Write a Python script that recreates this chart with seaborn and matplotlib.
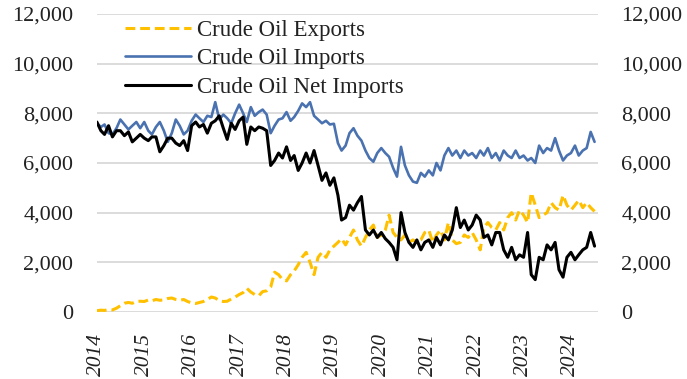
import matplotlib
matplotlib.use("Agg")
import matplotlib.pyplot as plt
import matplotlib.dates as mdates
from matplotlib.ticker import FuncFormatter, MultipleLocator
import numpy as np
import pandas as pd
import seaborn as sns

# Monthly averages, thousand barrels per day, Jan 2014 - Jul 2024
crude_exports = [
    50, 70, 60, 90, 80, 150, 250, 350, 380, 350, 420, 430,            # 2014
    420, 480, 450, 500, 470, 480, 540, 560, 500, 470, 500, 420,       # 2015
    360, 340, 380, 420, 500, 600, 560, 450, 420, 430, 520, 600,       # 2016
    700, 780, 950, 800, 700, 650, 820, 850, 1000, 1600, 1500, 1300,   # 2017
    1250, 1500, 1650, 1900, 2200, 2400, 2000, 1500, 2200, 2400, 2200, 2500,  # 2018
    2650, 2800, 2950, 2700, 3000, 3300, 2900, 2650, 3000, 3300, 3500, 3000,  # 2019
    3100, 3300, 3900, 3200, 3000, 2900, 3100, 2800, 2900, 2800, 2900, 3200,  # 2020
    3300, 2800, 3100, 3300, 2900, 3600, 2900, 2750, 2800, 3100, 3000, 3200,  # 2021
    2900, 2500, 3400, 3600, 3400, 3300, 3600, 3300, 3800, 4000, 3700, 4100,  # 2022
    3900, 3600, 4800, 4300, 3800, 3900, 4000, 4400, 4200, 4100, 4700, 4300,  # 2023
    4100, 4300, 4500, 4200, 4400, 4200, 4050,                                # 2024
]

crude_imports = [
    7600, 7450, 7550, 7200, 7150, 7400, 7750, 7550, 7350, 7500, 7650, 7400,  # 2014
    7650, 7300, 7150, 7450, 7650, 7300, 6850, 7200, 7750, 7500, 7150, 7300,  # 2015
    7700, 7950, 7800, 7650, 7900, 7850, 8450, 7750, 7950, 7800, 7600, 8000,  # 2016
    8350, 8000, 7650, 8250, 7900, 8050, 8150, 7950, 7200, 7500, 7750, 7800,  # 2017
    8050, 7700, 7850, 8100, 8400, 8250, 8450, 7900, 7750, 7600, 7700, 7550,  # 2018
    7580, 6800, 6500, 6700, 7200, 7400, 7100, 6900, 6500, 6200, 6050, 6400,  # 2019
    6600, 6400, 6250, 5800, 5450, 6650, 5900, 5500, 5250, 5200, 5600, 5450,  # 2020
    5700, 5500, 6000, 5700, 6300, 6600, 6300, 6500, 6200, 6500, 6300, 6400,  # 2021
    6200, 6500, 6300, 6600, 6200, 6400, 6100, 6500, 6300, 6200, 6500, 6200,  # 2022
    6300, 6100, 6200, 6000, 6700, 6400, 6600, 6500, 7000, 6500, 6100, 6300,  # 2023
    6400, 6700, 6300, 6500, 6600, 7250, 6850,                                # 2024
]

crude_net_imports = [
    7650, 7300, 7150, 7500, 7050, 7300, 7300, 7100, 7250, 6850, 7000, 7150,  # 2014
    7000, 6900, 7050, 7050, 6450, 6700, 7000, 7000, 6800, 6700, 6900, 6500,  # 2015
    7500, 7650, 7450, 7550, 7200, 7600, 7700, 7900, 7400, 6950, 7600, 7350,  # 2016
    7700, 7850, 6750, 7450, 7300, 7450, 7400, 7300, 5900, 6100, 6400, 6200,  # 2017
    6650, 6100, 6300, 5700, 6000, 6400, 6000, 6500, 5900, 5300, 5600, 5100,  # 2018
    5400, 4700, 3700, 3800, 4300, 4100, 4400, 4650, 3300, 3100, 3300, 3000,  # 2019
    3200, 2950, 2800, 2600, 2100, 4000, 3200, 2800, 2600, 2900, 2500, 2800,  # 2020
    2900, 2600, 3000, 2700, 3100, 2900, 3300, 4200, 3400, 3700, 3300, 3500,  # 2021
    3900, 3700, 3000, 3100, 2700, 3200, 3200, 2500, 2200, 2600, 2100, 2300,  # 2022
    2200, 3200, 1500, 1300, 2200, 2100, 2700, 2500, 2800, 1700, 1400, 2200,  # 2023
    2400, 2100, 2300, 2500, 2600, 3200, 2650,                                # 2024
]

dates = pd.date_range("2014-01-01", periods=len(crude_exports), freq="MS")
df = pd.DataFrame({
    "date": dates,
    "Crude Oil Exports": crude_exports,
    "Crude Oil Imports": crude_imports,
    "Crude Oil Net Imports": crude_net_imports,
})

sns.set_theme(style="white")
plt.rcParams["font.family"] = ["Liberation Serif", "DejaVu Serif"]

fig = plt.figure(figsize=(6.87, 3.79), dpi=100)
ax = fig.add_axes([0.141, 0.177, 0.729, 0.786])

sns.lineplot(data=df, x="date", y="Crude Oil Exports", ax=ax, color="#FFC000",
             linewidth=2.2, label="Crude Oil Exports")
ax.lines[-1].set_dashes([3.2, 1.6])
sns.lineplot(data=df, x="date", y="Crude Oil Imports", ax=ax, color="#4A72B0",
             linewidth=1.9, label="Crude Oil Imports")
sns.lineplot(data=df, x="date", y="Crude Oil Net Imports", ax=ax, color="#000000",
             linewidth=2.2, label="Crude Oil Net Imports")

ax.set_ylim(0, 12000)
ax.set_xlim(pd.Timestamp("2014-01-01"), pd.Timestamp("2024-07-25"))
ax.yaxis.set_major_locator(MultipleLocator(2000))
fmt = FuncFormatter(lambda v, p: f"{v:,.0f}")
ax.yaxis.set_major_formatter(fmt)
ax.xaxis.set_major_locator(mdates.YearLocator())
ax.xaxis.set_major_formatter(mdates.DateFormatter("%Y"))
ax.set_xlabel("")
ax.set_ylabel("")

ax.grid(axis="y", color="#d9d9d9", linewidth=1.3)
ax.grid(axis="x", visible=False)
for s in ax.spines.values():
    s.set_visible(False)

ax.tick_params(axis="y", length=0, pad=17, labelsize=16, colors="#222222")
ax.tick_params(axis="x", length=0, pad=15, labelsize=15.5, colors="#222222")
for lbl in ax.get_xticklabels():
    lbl.set_rotation(90)
    lbl.set_style("italic")
    lbl.set_ha("center")
    lbl.set_va("top")

ax2 = ax.twinx()
ax2.set_ylim(ax.get_ylim())
ax2.yaxis.set_major_locator(MultipleLocator(2000))
ax2.yaxis.set_major_formatter(fmt)
ax2.tick_params(axis="y", length=0, pad=17, labelsize=16, colors="#222222")
for s in ax2.spines.values():
    s.set_visible(False)

leg = ax.legend(loc="upper left", bbox_to_anchor=(0.037, 1.012), frameon=False,
                fontsize=16.5, handlelength=2.9, handletextpad=0.25,
                labelspacing=0.33, borderaxespad=0)
for t in leg.get_texts():
    t.set_color("#222222")

fig.savefig("out.png", dpi=100)
